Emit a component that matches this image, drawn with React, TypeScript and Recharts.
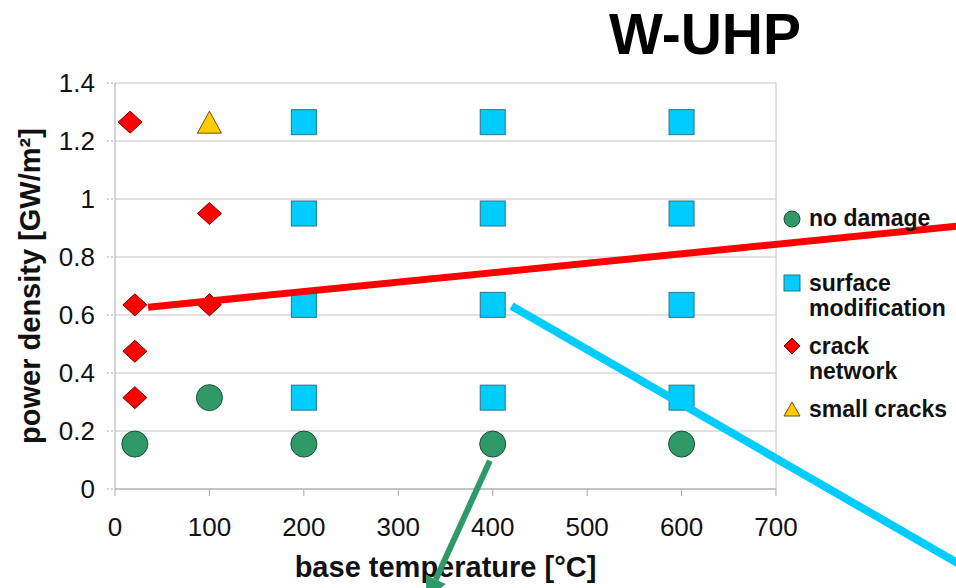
import React from "react";
import {
  ScatterChart,
  Scatter,
  XAxis,
  YAxis,
  CartesianGrid,
  ReferenceLine,
} from "recharts";

const FONT = '"Liberation Sans", Arial, sans-serif';

const xTicks = [0, 100, 200, 300, 400, 500, 600, 700];
const yTicks = [0, 0.2, 0.4, 0.6, 0.8, 1, 1.2, 1.4];

const noDamage = [
  { temp: 21, power: 0.155 },
  { temp: 100, power: 0.315 },
  { temp: 200, power: 0.155 },
  { temp: 400, power: 0.155 },
  { temp: 600, power: 0.155 },
];

const surfaceMod = [
  { temp: 200, power: 1.265 },
  { temp: 400, power: 1.265 },
  { temp: 600, power: 1.265 },
  { temp: 200, power: 0.95 },
  { temp: 400, power: 0.95 },
  { temp: 600, power: 0.95 },
  { temp: 200, power: 0.635 },
  { temp: 400, power: 0.635 },
  { temp: 600, power: 0.635 },
  { temp: 200, power: 0.315 },
  { temp: 400, power: 0.315 },
  { temp: 600, power: 0.315 },
];

const crackNetwork = [
  { temp: 16, power: 1.265 },
  { temp: 100, power: 0.95 },
  { temp: 21, power: 0.635 },
  { temp: 100, power: 0.635 },
  { temp: 21, power: 0.475 },
  { temp: 21, power: 0.315 },
];

const smallCracks = [{ temp: 100, power: 1.265 }];

// annotation strokes drawn over the chart (data units, they run off the plot)
const redTrend = [
  { x: 35, y: 0.627 },
  { x: 910, y: 0.912 },
];
const cyanArrow = [
  { x: 420, y: 0.631 },
  { x: 937, y: -0.339 },
];
const greenArrow = [
  { x: 397, y: 0.097 },
  { x: 330, y: -0.381 },
];

const GREEN = "#2f9a68";
const CYAN = "#00ccff";
const RED = "#ff0000";
const YELLOW = "#ffcc00";

const CircleMark = (p: any) => (
  <circle cx={p.cx} cy={p.cy} r={13} fill={GREEN} stroke="#1e4d38" strokeWidth={1} />
);
const SquareMark = (p: any) => (
  <rect x={p.cx - 12.5} y={p.cy - 12.5} width={25} height={25} fill={CYAN} stroke="#2b7585" strokeWidth={1} />
);
const DiamondMark = (p: any) => (
  <polygon
    points={`${p.cx},${p.cy - 11} ${p.cx + 12},${p.cy} ${p.cx},${p.cy + 11} ${p.cx - 12},${p.cy}`}
    fill={RED}
    stroke="#7a0000"
    strokeWidth={1}
  />
);
const TriangleMark = (p: any) => (
  <polygon
    points={`${p.cx},${p.cy - 11} ${p.cx + 12},${p.cy + 11} ${p.cx - 12},${p.cy + 11}`}
    fill={YELLOW}
    stroke="#6b5400"
    strokeWidth={1}
  />
);

const arrowLine = (color: string, width: number, head: boolean) => (p: any) => {
  const { x1, y1, x2, y2 } = p;
  const dx = x2 - x1;
  const dy = y2 - y1;
  const len = Math.sqrt(dx * dx + dy * dy);
  const ux = dx / len;
  const uy = dy / len;
  const hl = 22;
  const hw = 11;
  const bx = x2 - ux * hl;
  const by = y2 - uy * hl;
  return (
    <g>
      <line x1={x1} y1={y1} x2={head ? bx : x2} y2={head ? by : y2} stroke={color} strokeWidth={width} />
      {head && (
        <polygon
          points={`${x2},${y2} ${bx - uy * hw},${by + ux * hw} ${bx + uy * hw},${by - ux * hw}`}
          fill={color}
        />
      )}
    </g>
  );
};

const legendItems = [
  { lines: ["no damage"], kind: "circle" },
  { lines: ["surface", "modification"], kind: "square" },
  { lines: ["crack", "network"], kind: "diamond" },
  { lines: ["small cracks"], kind: "triangle" },
];

const LegendIcon = ({ kind }: { kind: string }) => (
  <svg width={18} height={18} style={{ display: "block" }}>
    {kind === "circle" && <circle cx={9} cy={9} r={8} fill={GREEN} stroke="#1e4d38" />}
    {kind === "square" && <rect x={1} y={1} width={16} height={16} fill={CYAN} stroke="#2b7585" />}
    {kind === "diamond" && <polygon points="9,1 17,9 9,17 1,9" fill={RED} stroke="#7a0000" />}
    {kind === "triangle" && <polygon points="9,2 17,16 1,16" fill={YELLOW} stroke="#6b5400" />}
  </svg>
);

const ChartLegend = () => (
  <div
    style={{
      position: "absolute",
      left: 781,
      top: 206,
      width: 175,
      fontFamily: FONT,
      fontWeight: "bold",
      fontSize: 23,
      color: "#111",
    }}
  >
    {legendItems.map((it, i) => (
      <div
        key={it.kind}
        style={{
          display: "flex",
          alignItems: "flex-start",
          marginBottom: i === 0 ? 39 : 12,
          lineHeight: "25.5px",
        }}
      >
        <div style={{ width: 26, paddingTop: 3.5, paddingLeft: 2 }}>
          <LegendIcon kind={it.kind} />
        </div>
        <div>
          {it.lines.map((l) => (
            <div key={l}>{l}</div>
          ))}
        </div>
      </div>
    ))}
  </div>
);

const renderXLabel = (props: any) => {
  const vb = props.viewBox;
  return (
    <text
      x={vb.x + vb.width / 2}
      y={577}
      textAnchor="middle"
      fontFamily={FONT}
      fontWeight="bold"
      fontSize={29}
      fill="#111"
    >
      base temperature [°C]
    </text>
  );
};

const renderYLabel = (props: any) => {
  const vb = props.viewBox;
  const cy = vb.y + vb.height / 2;
  return (
    <text
      x={40}
      y={cy}
      transform={`rotate(-90 40 ${cy})`}
      textAnchor="middle"
      fontFamily={FONT}
      fontWeight="bold"
      fontSize={29}
      fill="#111"
    >
      power density [GW/m²]
    </text>
  );
};

export default function App() {
  return (
    <div style={{ position: "absolute", left: 0, top: 0, width: 956, height: 588, background: "#fff", overflow: "hidden" }}>
      <div
        style={{
          position: "absolute",
          left: 560,
          width: 290,
          top: 3,
          textAlign: "center",
          fontFamily: FONT,
          fontWeight: "bold",
          fontSize: 57,
          lineHeight: "62px",
          color: "#000",
        }}
      >
        W-UHP
      </div>
      <ScatterChart width={956} height={588} margin={{ top: 83, right: 180, bottom: 0, left: 0 }}>
        <CartesianGrid vertical={false} stroke="#c4c4c4" />
        <XAxis
          type="number"
          dataKey="temp"
          domain={[0, 700]}
          ticks={xTicks}
          height={99}
          stroke="#a8a8a8"
          tickSize={7}
          tickMargin={22}
          tick={{ fill: "#111", fontSize: 26, fontFamily: FONT }}
          label={{ content: renderXLabel }}
        />
        <YAxis
          type="number"
          dataKey="power"
          domain={[0, 1.4]}
          ticks={yTicks}
          width={115}
          stroke="#a8a8a8"
          tickLine={{ strokeDasharray: "2 2" }}
          tickSize={8}
          tickMargin={12}
          tick={{ fill: "#111", fontSize: 26, fontFamily: FONT }}
          label={{ content: renderYLabel }}
        />
        <ReferenceLine x={700} stroke="#c4c4c4" />
        <Scatter name="no damage" data={noDamage} shape={CircleMark} isAnimationActive={false} />
        <Scatter name="surface modification" data={surfaceMod} shape={SquareMark} isAnimationActive={false} />
        <Scatter name="crack network" data={crackNetwork} shape={DiamondMark} isAnimationActive={false} />
        <Scatter name="small cracks" data={smallCracks} shape={TriangleMark} isAnimationActive={false} />
        <ReferenceLine segment={redTrend} ifOverflow="visible" zIndex={1000} shape={arrowLine(RED, 7, false)} />
        <ReferenceLine segment={cyanArrow} ifOverflow="visible" zIndex={1000} shape={arrowLine(CYAN, 8, true)} />
        <ReferenceLine segment={greenArrow} ifOverflow="visible" zIndex={1000} shape={arrowLine(GREEN, 6, true)} />
      </ScatterChart>
      <ChartLegend />
    </div>
  );
}
